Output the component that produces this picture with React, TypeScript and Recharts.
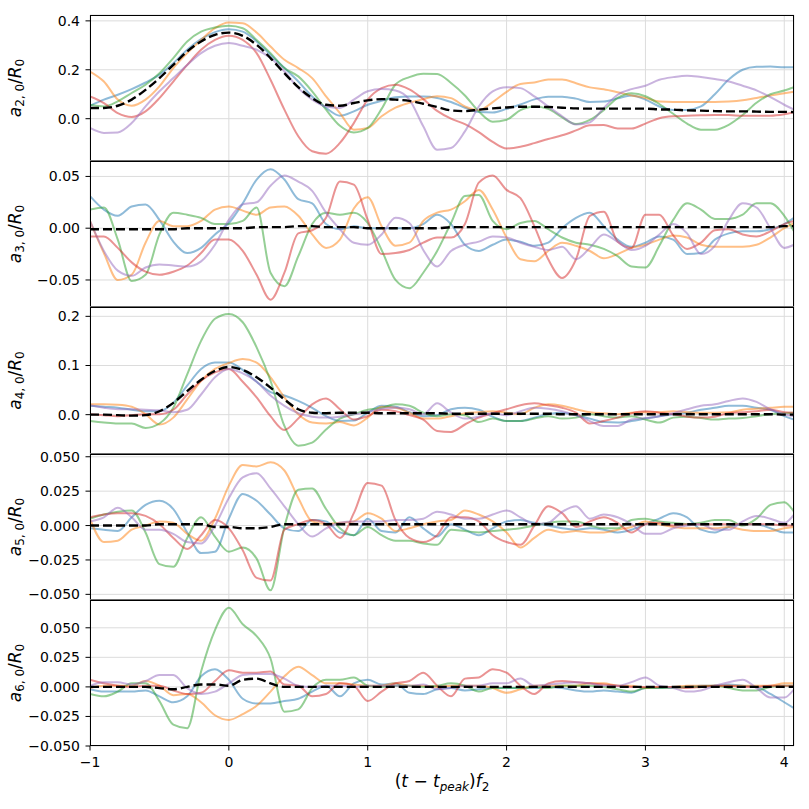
import React from 'react';
import { LineChart, Line, XAxis, YAxis, CartesianGrid } from 'recharts';

// time axis (t - t_peak) f2
const X = [-1.0,-0.9,-0.8,-0.7,-0.6,-0.5,-0.4,-0.3,-0.2,-0.1,0.0,0.1,0.2,0.3,0.4,0.5,0.6,0.7,0.8,0.9,1.0,1.1,1.2,1.3,1.4,1.5,1.6,1.7,1.8,1.9,2.0,2.1,2.2,2.3,2.4,2.5,2.6,2.7,2.8,2.9,3.0,3.1,3.2,3.3,3.4,3.5,3.6,3.7,3.8,3.9,4.0,4.07];
const X_TICKS = [-1, 0, 1, 2, 3, 4];

// ---- a2,0 / R0 ----
const a2Blue = [0.053,0.078,0.098,0.121,0.148,0.18,0.227,0.282,0.325,0.354,0.366,0.356,0.316,0.261,0.207,0.152,0.091,0.044,0.012,0.03,0.057,0.073,0.088,0.091,0.091,0.085,0.068,0.045,0.027,0.025,0.04,0.058,0.079,0.09,0.09,0.082,0.068,0.07,0.083,0.095,0.078,0.05,0.036,0.036,0.05,0.1,0.16,0.2,0.212,0.213,0.21,0.21];
const a2Orange = [0.193,0.152,0.078,0.053,0.078,0.132,0.207,0.268,0.322,0.37,0.393,0.39,0.352,0.295,0.241,0.207,0.166,0.091,0.023,-0.045,-0.038,0.01,0.045,0.065,0.08,0.092,0.084,0.05,0.035,0.068,0.11,0.142,0.148,0.16,0.16,0.145,0.128,0.12,0.108,0.095,0.085,0.07,0.068,0.068,0.068,0.068,0.07,0.075,0.085,0.095,0.104,0.11];
const a2Green = [0.057,0.05,0.071,0.105,0.139,0.186,0.248,0.316,0.356,0.373,0.38,0.37,0.322,0.268,0.207,0.173,0.112,0.037,-0.029,-0.056,-0.038,0.04,0.14,0.17,0.184,0.183,0.146,0.095,0.03,-0.012,-0.004,0.035,0.05,0.04,0.005,-0.022,-0.005,0.035,0.085,0.104,0.092,0.06,0.02,-0.02,-0.045,-0.045,-0.025,0.015,0.065,0.1,0.115,0.129];
const a2Red = [0.091,0.064,0.023,0.007,0.03,0.084,0.152,0.22,0.282,0.322,0.339,0.322,0.268,0.159,0.037,-0.072,-0.133,-0.143,-0.099,-0.018,0.078,0.125,0.139,0.12,0.08,0.032,0.0,-0.022,-0.055,-0.095,-0.122,-0.115,-0.1,-0.083,-0.068,-0.048,-0.027,-0.026,-0.04,-0.04,-0.02,0.002,0.01,0.012,0.014,0.015,0.015,0.012,0.012,0.012,0.018,0.026];
const a2Purple = [-0.038,-0.058,-0.056,-0.018,0.05,0.112,0.166,0.22,0.268,0.298,0.309,0.298,0.282,0.248,0.193,0.125,0.078,0.05,0.044,0.078,0.112,0.121,0.115,0.078,-0.031,-0.127,-0.12,-0.052,0.05,0.112,0.129,0.125,0.091,0.05,0.01,-0.024,-0.015,0.044,0.098,0.121,0.135,0.159,0.17,0.176,0.17,0.162,0.152,0.135,0.116,0.088,0.057,0.037];
const a2Mean = [0.044,0.044,0.053,0.078,0.118,0.166,0.22,0.275,0.316,0.343,0.352,0.339,0.302,0.248,0.186,0.129,0.084,0.057,0.053,0.064,0.075,0.08,0.078,0.073,0.061,0.048,0.034,0.031,0.037,0.042,0.046,0.049,0.049,0.048,0.045,0.042,0.041,0.041,0.041,0.041,0.041,0.038,0.037,0.034,0.033,0.031,0.03,0.03,0.029,0.028,0.028,0.027];

// ---- a3,0 / R0 ----
const a3Blue = [0.031,0.018,0.012,0.021,0.023,0.008,-0.013,-0.024,-0.019,-0.006,0.005,0.024,0.047,0.057,0.047,0.028,0.024,0.004,-0.001,0.002,0,0,0,0,0.004,0.013,0.004,-0.016,-0.022,-0.016,-0.011,-0.013,-0.017,-0.014,0,0.01,0.015,0.002,-0.011,-0.018,-0.014,-0.008,-0.011,-0.025,-0.024,-0.011,-0.005,-0.003,-0.003,-0.001,0.004,0.01];
const a3Orange = [0.007,-0.024,-0.05,-0.045,-0.014,0.007,0.002,0.002,0.007,0.018,0.021,0.017,0.013,0.02,0.021,0.012,-0.006,-0.019,-0.011,0.019,0.03,0.002,-0.017,-0.014,0.007,0.015,0.018,0.026,0.037,0.018,-0.009,-0.03,-0.032,-0.022,-0.014,-0.017,-0.022,-0.029,-0.025,-0.019,-0.016,-0.011,-0.007,-0.009,-0.016,-0.018,-0.018,-0.018,-0.016,-0.009,0,0.005];
const a3Green = [0.018,0.02,-0.011,-0.051,-0.045,-0.006,0.015,0.013,0.01,0.004,0.004,0.007,0.02,-0.043,-0.056,-0.027,0.004,0.015,0.013,0.015,0.005,-0.021,-0.05,-0.058,-0.043,-0.022,0.005,0.031,0.032,0.007,-0.001,0.005,0.007,-0.001,-0.009,-0.014,-0.016,-0.02,-0.027,-0.037,-0.038,-0.017,0.008,0.024,0.018,0.009,0.009,0.013,0.024,0.024,0.012,-0.003];
const a3Red = [-0.008,-0.008,-0.019,-0.033,-0.042,-0.045,-0.042,-0.036,-0.024,-0.011,-0.011,-0.022,-0.045,-0.069,-0.043,-0.005,-0.002,0.01,0.045,0.042,0.008,-0.025,-0.024,-0.021,-0.014,-0.009,-0.009,0.004,0.044,0.051,0.037,0.029,0.002,-0.03,-0.048,-0.03,0.012,0.016,-0.013,-0.019,0.013,0.013,-0.007,-0.02,-0.014,-0.002,-0.001,-0.006,-0.008,-0.003,0.004,0.007];
const a3Purple = [0.007,-0.022,-0.041,-0.046,-0.038,-0.035,-0.036,-0.037,-0.032,-0.016,0.008,0.023,0.025,0.041,0.051,0.045,0.036,0.015,-0.001,-0.014,-0.016,-0.006,0.01,0.005,-0.021,-0.037,-0.022,-0.016,-0.013,-0.008,-0.009,-0.014,-0.018,-0.021,-0.018,-0.03,-0.019,-0.006,-0.013,-0.021,-0.017,-0.006,0.004,-0.005,-0.025,-0.017,0.008,0.024,0.02,0,-0.019,-0.016];
const a3Mean = [-0.001,-0.001,-0.001,-0.001,-0.001,-0.001,-0.001,0,0,0,0,0,0.001,0.001,0.001,0.002,0.002,0.001,0.001,0.001,0,0,0,0,0,0,0.001,0.001,0.001,0.001,0.001,0.001,0.001,0.001,0.001,0.001,0.001,0.001,0.001,0.001,0.001,0.001,0.001,0.001,0.001,0.001,0.001,0.001,0.001,0.001,0.002,0.002];

// ---- a4,0 / R0 ----
const a4Blue = [0.018,0.016,0.014,0.01,0.007,0.007,0.024,0.059,0.093,0.106,0.106,0.091,0.067,0.046,0.039,0.028,0.014,-0.003,-0.013,-0.012,0.004,0.018,0.016,0.005,-0.003,-0.001,0.011,0.014,0.01,-0.004,-0.013,-0.013,-0.006,0.001,0.004,-0.001,-0.008,-0.015,-0.016,-0.013,-0.008,-0.003,0.001,0.004,0.01,0.014,0.018,0.018,0.014,0.01,-0.003,-0.01];
const a4Orange = [0.021,0.021,0.02,0.016,0.001,-0.02,-0.006,0.031,0.069,0.093,0.105,0.113,0.106,0.076,0.035,0.001,-0.016,-0.018,-0.015,-0.022,-0.006,0.016,0.014,0.004,-0.008,-0.008,-0.003,0.003,0.005,0.007,0.004,0.001,0.014,0.021,0.018,0.011,0.005,0.003,0.001,0.004,0.005,0.005,0.007,0.005,0.004,0.004,0.005,0.01,0.012,0.014,0.016,0.016];
const a4Green = [-0.013,-0.016,-0.018,-0.018,-0.027,-0.018,0.014,0.082,0.15,0.195,0.205,0.188,0.137,0.069,-0.023,-0.063,-0.057,-0.03,-0.008,0.001,0.01,0.014,0.021,0.018,0.004,-0.003,0.001,-0.001,-0.015,-0.008,-0.013,-0.013,-0.008,-0.003,-0.008,-0.006,0.001,-0.003,-0.006,-0.003,-0.01,-0.016,-0.006,-0.004,-0.007,-0.01,-0.008,-0.007,-0.003,0.001,0.003,0.004];
const a4Red = [0.001,-0.001,-0.003,-0.001,0.001,0.001,0.01,0.041,0.069,0.086,0.093,0.067,0.035,-0.003,-0.031,-0.008,0.021,0.033,0.011,-0.01,-0.003,0.01,0.007,-0.001,-0.01,-0.033,-0.035,-0.02,-0.006,0.003,0.011,0.019,0.023,0.019,0.014,0.004,-0.018,-0.013,-0.006,0.003,0.007,0.004,0.001,-0.004,-0.006,-0.004,0.003,0.005,0.007,0.01,0.005,0.004];
const a4Purple = [0.019,0.014,0.011,0.011,0.01,0.009,0.005,0.01,0.041,0.076,0.093,0.084,0.067,0.039,0.018,0.003,-0.004,-0.006,-0.004,0.001,0.005,0.012,0.014,0.011,0.001,0.023,0.004,-0.008,-0.004,0.003,-0.001,0.007,0.014,0.012,0.007,-0.001,-0.013,-0.023,-0.023,-0.01,-0.007,-0.003,0.003,0.011,0.018,0.021,0.028,0.033,0.026,0.011,0.001,-0.003];
const a4Mean = [0,0,-0.001,-0.002,-0.001,0.007,0.024,0.048,0.071,0.089,0.097,0.091,0.076,0.055,0.031,0.011,0.004,0.003,0.004,0.004,0.004,0.003,0.003,0.003,0.003,0.003,0.002,0.002,0.002,0.002,0.002,0.002,0.002,0.002,0.001,0.001,0.001,0.001,0.001,0.001,0.001,0.001,0.001,0.001,0.001,0.001,0.001,0.001,0.001,0.001,0,0];

// ---- a5,0 / R0 ----
const a5Blue = [-0.002,-0.003,-0.004,0.006,0.015,0.018,0.012,-0.005,-0.02,-0.019,0.005,0.023,0.018,0.008,-0.002,-0.004,0.004,0.003,-0.005,-0.007,0.005,-0.004,-0.005,0.006,-0.002,-0.008,0.001,-0.003,-0.007,-0.002,0.003,0.004,0.002,0,-0.002,-0.003,-0.002,-0.003,-0.005,-0.003,0.001,0.005,0.009,0.006,-0.003,-0.005,-0.001,0.001,0.001,-0.002,-0.005,-0.005];
const a5Orange = [0.005,-0.012,-0.011,-0.003,0,0.003,0.002,-0.006,-0.011,0.005,0.029,0.044,0.043,0.046,0.04,0.02,0.003,0.001,0.002,0.003,0.009,0.005,-0.004,-0.002,0.001,0.003,0.004,0.011,0.008,0.003,-0.005,-0.016,-0.009,-0.003,-0.005,-0.004,-0.005,-0.005,-0.003,-0.001,0.003,0.001,-0.001,-0.002,-0.002,-0.002,-0.001,-0.003,-0.004,-0.004,-0.002,-0.001];
const a5Green = [0.005,0.008,0.01,0.011,-0.005,-0.028,-0.03,-0.009,0.006,-0.008,-0.019,-0.016,-0.024,-0.047,-0.001,0.026,0.027,0.012,-0.002,-0.007,-0.001,-0.007,-0.011,-0.011,-0.013,-0.014,-0.003,-0.004,-0.005,-0.004,-0.003,-0.002,0,0.002,0.003,0.003,0,-0.002,-0.002,0.004,0.005,0.003,0.002,0.001,0.002,0.004,0.004,0,0.005,0.015,0.017,0.01];
const a5Red = [0.006,0.008,0.009,0.009,0.007,0.001,-0.009,-0.017,-0.007,0.004,-0.002,-0.018,-0.038,-0.04,-0.003,0.001,0.004,0.001,-0.009,0.009,0.031,0.029,0.004,-0.009,-0.012,-0.007,0.006,0.006,0.003,-0.007,-0.012,-0.014,0,0.014,0.009,-0.001,0.003,0.006,0.002,-0.005,0.001,0.002,0,0.001,0.001,0.001,0.001,0.001,0.001,0.001,0,0];
const a5Purple = [0.003,0.006,0.013,0.006,-0.003,-0.003,-0.006,-0.012,-0.013,0,0.02,0.035,0.038,0.027,0.014,0.001,-0.008,-0.002,0.002,0.003,0.003,0.003,0.004,0.004,0.005,0.01,0.008,0.005,0.005,0.008,0.011,0.006,0.001,0.002,0.01,0.014,0.005,0.008,0.006,0.001,-0.006,-0.006,-0.002,0,0.001,-0.003,-0.003,0.003,0.007,0.005,0.002,0.008];
const a5Mean = [0,0,0,0,0,0.001,0.001,0.001,0.001,-0.001,-0.001,-0.002,-0.002,-0.001,0.001,0.001,0.001,0.001,0.001,0.001,0.001,0.001,0.001,0.001,0.001,0.001,0.001,0.001,0.001,0.001,0.001,0.001,0.001,0.001,0.001,0.001,0.001,0.001,0.001,0.001,0.001,0.001,0.001,0.001,0.001,0.001,0.001,0.001,0.001,0.001,0.001,0.001];

// ---- a6,0 / R0 ----
const a6Blue = [-0.002,-0.004,-0.004,-0.004,-0.003,-0.008,-0.013,-0.008,0.009,0.015,0.006,-0.01,-0.014,-0.014,-0.012,-0.01,-0.004,0.001,-0.008,0.003,0.006,0.002,0.003,-0.005,-0.006,-0.002,-0.001,-0.003,-0.002,-0.001,-0.001,-0.001,-0.001,0,-0.001,-0.003,-0.004,-0.003,-0.004,-0.005,-0.001,-0.001,0,0,0.001,0.001,0.002,0.001,0,-0.006,-0.013,-0.018];
const a6Orange = [-0.001,0.001,0.001,0.001,0.005,0.001,-0.007,-0.006,-0.013,-0.024,-0.028,-0.023,-0.016,-0.004,0.009,0.017,0.01,0.003,0.003,0.002,0.001,0.001,0.003,0.001,0.001,0,0.001,0.001,0.001,-0.001,-0.005,-0.002,0.001,0.001,0.001,0.001,0.003,0.003,0.001,0.001,-0.001,0,0,0.001,0.001,0.001,0.001,0.001,0.001,0.001,0.003,0.003];
const a6Green = [-0.006,-0.008,-0.004,0.003,0.003,-0.012,-0.032,-0.035,0.013,0.048,0.067,0.053,0.043,0.024,-0.021,-0.019,-0.001,0.006,0.006,0.008,0.001,0,0.001,0.001,0,0.001,0.003,0.001,-0.004,-0.001,-0.001,-0.001,0,-0.001,0.001,0.001,0.001,0,-0.002,-0.004,-0.001,-0.001,-0.001,0,0,0.001,-0.001,-0.003,-0.003,0,0.001,0.001];
const a6Red = [0.006,0.003,0.001,0,0.001,0.001,-0.003,-0.006,-0.005,0.005,0.014,0.012,0.012,0.013,0.002,0.001,-0.008,-0.006,0.003,0.001,-0.012,-0.004,0.003,0.005,0.012,0.001,-0.008,0.007,0.008,0.015,0.012,0.001,-0.006,0.003,0.005,0.004,0.003,0.002,0.001,0,0,0,0,-0.001,0,0.001,0.001,0,0,0.001,0.001,0.001];
const a6Purple = [0.001,0.004,0.004,0.002,0.005,0.01,0.01,-0.001,-0.006,-0.004,0.003,0.01,0.011,0.011,0.007,0.001,0,0.001,0.001,0,0.001,0.001,0.001,0.001,0.002,-0.002,-0.001,0.001,0.001,0.003,0.003,0.007,0.001,0.002,0.003,0.004,0.003,0.001,0.001,0.004,0.008,0.001,-0.001,-0.004,-0.003,0.001,0.004,0.006,-0.001,-0.009,-0.009,-0.002];
const a6Mean = [0,0,0,0,0,-0.001,-0.002,0,0.002,0.002,0.001,0.006,0.007,0.003,0,0,0,0,0,0,0,0,0,0,0,0,0,0,0,0,0,0,0,0,0,0,0,0,0,0,0,0,0,0,0,0,0,0,0,0,0,0];

const SERIES = [
  { key: 'blue', color: '#1f77b4' },
  { key: 'orange', color: '#ff7f0e' },
  { key: 'green', color: '#2ca02c' },
  { key: 'red', color: '#d62728' },
  { key: 'purple', color: '#9467bd' },
];

function rows(blue: number[], orange: number[], green: number[], red: number[], purple: number[], mean: number[]) {
  return X.map((x, i) => ({ x, blue: blue[i], orange: orange[i], green: green[i], red: red[i], purple: purple[i], mean: mean[i] }));
}

const FONT = 'DejaVu Sans, sans-serif';
const TICK_FS = 14;
const LABEL_FS = 17;
const SUB_FS = 12;
const SUB_DY = 3.5;
const fmt = (d: number) => (v: number) => v.toFixed(d).replace('-', '\u2212');

const makeYLabel = (n: string) => (props: any) => {
  const vb = props.viewBox || { x: 0, y: 0, width: 90, height: 146 };
  const cy = vb.y + vb.height / 2;
  const bx = 20.5;
  return (
    <text transform={`rotate(-90, ${bx}, ${cy})`} x={bx} y={cy} textAnchor="middle" fontFamily={FONT} fontSize={LABEL_FS} fill="#000">
      <tspan fontStyle="italic">a</tspan>
      <tspan fontSize={SUB_FS} dy={SUB_DY}>{n + ', 0'}</tspan>
      <tspan dy={-SUB_DY}>/</tspan>
      <tspan fontStyle="italic">R</tspan>
      <tspan fontSize={SUB_FS} dy={SUB_DY}>0</tspan>
    </text>
  );
};

const XLabel = (props: any) => {
  const vb = props.viewBox || { x: 90, y: 146, width: 704, height: 60 };
  const cx = vb.x + vb.width / 2;
  const by = vb.y + 41;
  return (
    <text x={cx} y={by} textAnchor="middle" fontFamily={FONT} fontSize={LABEL_FS} fill="#000">
      <tspan>(</tspan>
      <tspan fontStyle="italic">t</tspan>
      <tspan>{' \u2212 '}</tspan>
      <tspan fontStyle="italic">t</tspan>
      <tspan fontStyle="italic" fontSize={SUB_FS} dy={SUB_DY}>peak</tspan>
      <tspan dy={-SUB_DY}>)</tspan>
      <tspan fontStyle="italic">f</tspan>
      <tspan fontSize={SUB_FS} dy={SUB_DY}>2</tspan>
    </text>
  );
};

type PanelProps = {
  data: any[];
  domain: [number, number];
  ticks: number[];
  digits: number;
  sub: string;
  top: number;
  height: number;
  showX?: boolean;
};

const PAD = 12;

function Panel({ data, domain, ticks, digits, sub, top, height, showX }: PanelProps) {
  const xh = showX ? 60 : 0;
  return (
    <div style={{ position: 'absolute', left: 0, top: top - PAD }}>
      <LineChart width={809} height={height + xh + 2 * PAD} data={data} margin={{ top: PAD, right: 15, bottom: PAD, left: 0 }}>
        <CartesianGrid stroke="#dcdcdc" strokeWidth={1} />
        <XAxis
          dataKey="x"
          type="number"
          domain={[-1, 4.07]}
          ticks={X_TICKS}
          allowDataOverflow
          interval={0}
          hide={!showX}
          height={xh}
          axisLine={false}
          tickLine={{ stroke: '#000' }}
          tickSize={4.5}
          tickMargin={7}
          tickFormatter={fmt(0)}
          tick={{ fontSize: TICK_FS, fill: '#000', fontFamily: FONT }}
          label={showX ? { content: XLabel } : undefined}
        />
        <YAxis
          type="number"
          domain={domain}
          ticks={ticks}
          allowDataOverflow
          interval={0}
          width={90}
          axisLine={false}
          tickLine={{ stroke: '#000' }}
          tickSize={4.5}
          tickMargin={5.5}
          tickFormatter={fmt(digits)}
          tick={{ fontSize: TICK_FS, fill: '#000', fontFamily: FONT }}
          label={{ content: makeYLabel(sub) }}
        />
        {SERIES.map((s) => (
          <Line
            key={s.key}
            dataKey={s.key}
            type="monotone"
            stroke={s.color}
            strokeOpacity={0.5}
            strokeWidth={2}
            dot={false}
            activeDot={false}
            isAnimationActive={false}
          />
        ))}
        <Line
          dataKey="mean"
          type="monotone"
          stroke="#000"
          strokeWidth={2.4}
          strokeDasharray="9 4"
          dot={false}
          activeDot={false}
          isAnimationActive={false}
        />
      </LineChart>
      <div
        style={{
          position: 'absolute',
          left: 90,
          top: PAD,
          width: 704,
          height,
          border: '1px solid #000',
          boxSizing: 'border-box',
          pointerEvents: 'none',
        }}
      />
    </div>
  );
}

const Y_TICKS_A2 = [0, 0.2, 0.4];
const Y_TICKS_A3 = [-0.05, 0, 0.05];
const Y_TICKS_A4 = [0, 0.1, 0.2];
const Y_TICKS_A56 = [-0.05, -0.025, 0, 0.025, 0.05];

export default function App() {
  return (
    <div style={{ position: 'absolute', left: 0, top: 0, width: 809, height: 809, background: '#fff', overflow: 'hidden' }}>
      <Panel data={rows(a2Blue, a2Orange, a2Green, a2Red, a2Purple, a2Mean)} domain={[-0.173, 0.424]} ticks={Y_TICKS_A2} digits={1} sub="2" top={15} height={146} />
      <Panel data={rows(a3Blue, a3Orange, a3Green, a3Red, a3Purple, a3Mean)} domain={[-0.0761, 0.0649]} ticks={Y_TICKS_A3} digits={2} sub="3" top={161} height={146} />
      <Panel data={rows(a4Blue, a4Orange, a4Green, a4Red, a4Purple, a4Mean)} domain={[-0.08, 0.219]} ticks={Y_TICKS_A4} digits={1} sub="4" top={307} height={147} />
      <Panel data={rows(a5Blue, a5Orange, a5Green, a5Red, a5Purple, a5Mean)} domain={[-0.0541, 0.052]} ticks={Y_TICKS_A56} digits={3} sub="5" top={454} height={146} />
      <Panel data={rows(a6Blue, a6Orange, a6Green, a6Red, a6Purple, a6Mean)} domain={[-0.05, 0.0735]} ticks={Y_TICKS_A56} digits={3} sub="6" top={600} height={146} showX />
    </div>
  );
}
